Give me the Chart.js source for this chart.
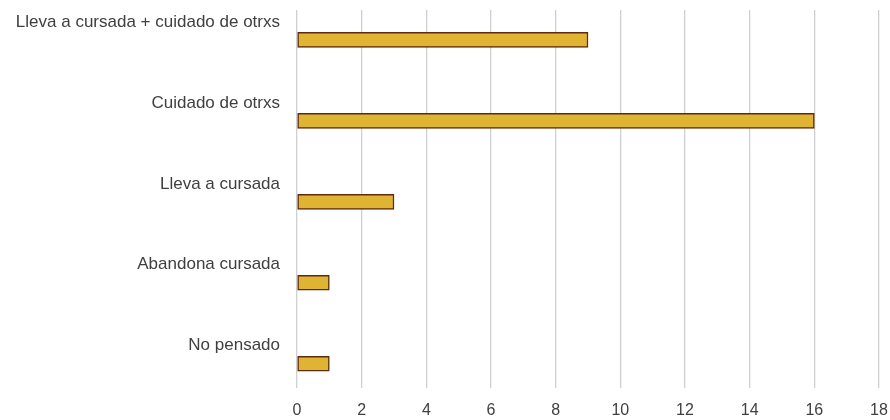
<!DOCTYPE html>
<html>
<head>
<meta charset="utf-8">
<script src="https://cdn.jsdelivr.net/npm/chart.js@4"></script>
<style>
html, body { margin: 0; padding: 0; background: #fff; }
#wrap { width: 890px; height: 420px; }
</style>
</head>
<body>
<div id="wrap"><canvas id="chart"></canvas></div>
<script>
const categories = ["Lleva a cursada + cuidado de otrxs", "Cuidado de otrxs", "Lleva a cursada", "Abandona cursada", "No pensado"]
const counts = [9, 16, 3, 1, 1]
const xTicks = [0, 2, 4, 6, 8, 10, 12, 14, 16, 18]

const ctx = document.getElementById("chart")

new Chart(ctx, {
type: "bar",
data: {
datasets: [{
data: counts.map((v, i) => ({ x: v, y: i })),
backgroundColor: "#E0B433",
borderColor: "#5C2A0E",
borderWidth: 1.5,
borderSkipped: false,
barThickness: 15
}]
},
options: {
indexAxis: "y",
responsive: true,
maintainAspectRatio: false,
animation: false,
layout: { padding: { top: 10, right: 11, left: 0, bottom: 0 } },
plugins: { legend: { display: false }, tooltip: { enabled: false } },
scales: {
x: {
type: "linear",
min: xTicks[0],
max: xTicks[xTicks.length - 1],
afterBuildTicks: s => { s.ticks = xTicks.map(v => ({ value: v })) },
afterFit: s => { s.height = 32; s.paddingLeft = 0; s.paddingRight = 0 },
grid: { color: "#cfcfcf", lineWidth: 1.3, drawTicks: false },
border: { display: false },
ticks: { padding: 13, color: "#404040", font: { family: "Liberation Sans", size: 16 } }
},
y: {
type: "linear",
reverse: true,
offset: false,
bounds: "data",
min: -0.37,
max: 4.3,
afterBuildTicks: s => { s.ticks = categories.map((c, i) => ({ value: i })) },
afterFit: s => { s.width = 297; s.paddingTop = 0; s.paddingBottom = 0 },
grid: { display: false, drawTicks: false },
border: { display: false },
ticks: {
callback: v => categories[v],
labelOffset: -18,
padding: 17,
color: "#404040",
font: { family: "Liberation Sans", size: 17 }
}
}
}
}
})
</script>
</body>
</html>
